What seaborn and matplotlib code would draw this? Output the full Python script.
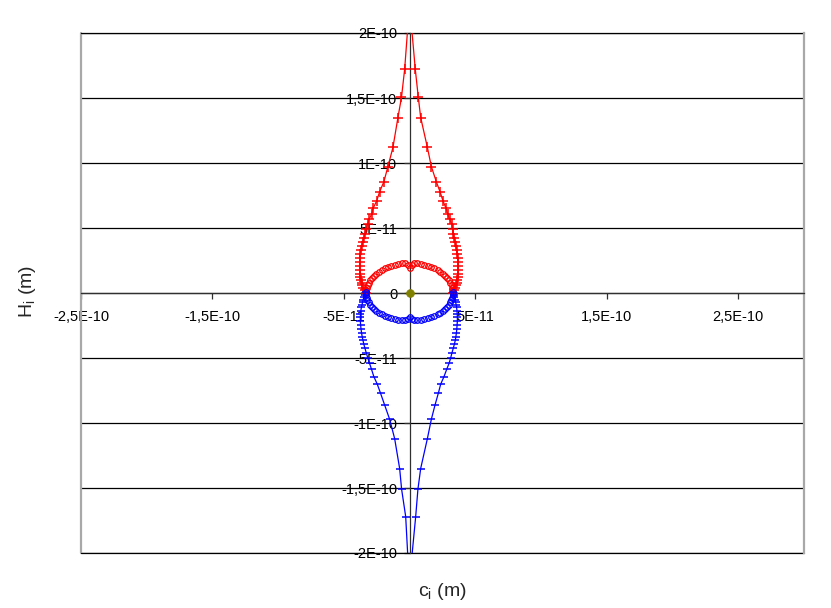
import numpy as np
import pandas as pd
import matplotlib
matplotlib.use("Agg")
import matplotlib.pyplot as plt
import seaborn as sns

# ---- data (values in units of 1E-11 m) ----
UNIT = 1e-11

red_left_x = [-0.10, -0.38, -0.62, -0.89, -1.27, -1.65, -1.96, -2.28, -2.51, -2.78,
              -2.89, -3.08, -3.20, -3.33, -3.40, -3.50, -3.58, -3.65, -3.71, -3.75,
              -3.78, -3.80, -3.81, -3.80, -3.78, -3.75, -3.71, -3.66, -3.60, -3.52,
              -3.42, -3.30]
red_left_y = [21.0, 17.2, 15.05, 13.5, 11.2, 9.73, 8.56, 7.79, 7.08, 6.51,
              6.08, 5.67, 5.31, 4.90, 4.55, 4.20, 3.90, 3.60, 3.30, 3.00,
              2.70, 2.40, 2.10, 1.80, 1.50, 1.25, 1.00, 0.80, 0.60, 0.40,
              0.20, 0.00]
red_right_x = [0.10, 0.43, 0.66, 0.84, 1.35, 1.65, 2.03, 2.31, 2.54, 2.77,
               2.89, 3.05, 3.20, 3.28, 3.33, 3.40, 3.47, 3.53, 3.58, 3.62,
               3.66, 3.69, 3.70, 3.70, 3.68, 3.65, 3.61, 3.57, 3.52, 3.46,
               3.39, 3.30]
red_right_y = [21.0, 17.2, 15.05, 13.5, 11.2, 9.73, 8.56, 7.79, 7.08, 6.51,
               6.08, 5.67, 5.31, 4.90, 4.55, 4.20, 3.90, 3.60, 3.30, 3.00,
               2.70, 2.40, 2.10, 1.80, 1.50, 1.25, 1.00, 0.80, 0.60, 0.40,
               0.20, 0.00]

blue_left_x = [-0.10, -0.30, -0.61, -0.76, -1.14, -1.52, -1.90, -2.21, -2.46, -2.72,
               -2.90, -3.05, -3.18, -3.30, -3.40, -3.48, -3.55, -3.61, -3.66, -3.70,
               -3.73, -3.75, -3.75, -3.74, -3.71, -3.67, -3.62, -3.58, -3.53, -3.48,
               -3.42, -3.35]
blue_left_y = [-21.0, -17.2, -15.1, -13.5, -11.2, -9.72, -8.62, -7.72, -7.02, -6.44,
               -5.87, -5.41, -5.0, -4.6, -4.25, -3.95, -3.65, -3.35, -3.05, -2.75,
               -2.45, -2.15, -1.85, -1.6, -1.35, -1.1, -0.9, -0.7, -0.5, -0.3,
               -0.12, 0.05]
blue_right_x = [0.10, 0.46, 0.63, 0.84, 1.35, 1.65, 1.93, 2.18, 2.36, 2.61,
                2.82, 3.00, 3.12, 3.22, 3.32, 3.40, 3.47, 3.52, 3.56, 3.59,
                3.61, 3.63, 3.63, 3.62, 3.60, 3.57, 3.54, 3.50, 3.45, 3.40,
                3.35, 3.30]
blue_right_y = [-21.0, -17.2, -15.1, -13.5, -11.2, -9.72, -8.62, -7.72, -7.02, -6.44,
                -5.87, -5.41, -5.0, -4.6, -4.25, -3.95, -3.65, -3.35, -3.05, -2.75,
                -2.45, -2.15, -1.85, -1.6, -1.35, -1.1, -0.9, -0.7, -0.5, -0.3,
                -0.12, 0.05]

red_circ_x = [-3.30, -3.29, -3.25, -3.19, -3.10, -2.99, -2.86, -2.70, -2.53, -2.33,
              -2.12, -1.89, -1.65, -1.40, -1.13, -0.85, -0.57, -0.34, -0.15, 0.00,
              0.15, 0.34, 0.57, 0.85, 1.13, 1.40, 1.65, 1.89, 2.12, 2.33,
              2.53, 2.70, 2.86, 2.99, 3.10, 3.19, 3.25, 3.29, 3.30]
red_circ_y = [0.00, 0.20, 0.40, 0.59, 0.78, 0.97, 1.15, 1.32, 1.48, 1.63,
              1.77, 1.89, 2.00, 2.09, 2.17, 2.23, 2.27, 2.28, 2.12, 1.95,
              2.12, 2.28, 2.27, 2.23, 2.17, 2.09, 2.00, 1.89, 1.77, 1.63,
              1.48, 1.32, 1.15, 0.97, 0.78, 0.59, 0.40, 0.20, 0.00]
blue_circ_x = [-3.35, -3.33, -3.28, -3.21, -3.12, -3.00, -2.86, -2.70, -2.53, -2.33,
               -2.12, -1.89, -1.65, -1.40, -1.13, -0.85, -0.57, -0.34, -0.15, 0.00,
               0.15, 0.34, 0.57, 0.85, 1.13, 1.40, 1.65, 1.89, 2.12, 2.33,
               2.53, 2.70, 2.86, 2.99, 3.10, 3.18, 3.24, 3.27, 3.28]
blue_circ_y = [0.05, -0.19, -0.37, -0.55, -0.73, -0.90, -1.07, -1.22, -1.37, -1.51,
               -1.63, -1.74, -1.84, -1.93, -2.00, -2.06, -2.10, -2.11, -1.98, -1.87,
               -1.98, -2.11, -2.10, -2.06, -2.00, -1.93, -1.84, -1.74, -1.63, -1.51,
               -1.37, -1.22, -1.07, -0.90, -0.73, -0.55, -0.37, -0.19, 0.05]

origin_x = [0.0]
origin_y = [0.0]

x_tick_vals = [-25, -15, -5, 5, 15, 25]
x_tick_labels = ["-2,5E-10", "-1,5E-10", "-5E-11", "5E-11", "1,5E-10", "2,5E-10"]
y_tick_vals = [20, 15, 10, 5, 0, -5, -10, -15, -20]
y_tick_labels = ["2E-10", "1,5E-10", "1E-10", "5E-11", "0", "-5E-11", "-1E-10",
                 "-1,5E-10", "-2E-10"]

# ---- style ----
sns.set_theme(style="white")
plt.rcParams["font.family"] = ["Liberation Sans", "DejaVu Sans"]
plt.rcParams["mathtext.default"] = "regular"

W, H = 831, 608
fig = plt.figure(figsize=(W / 100, H / 100), dpi=100)
fig.patch.set_facecolor("white")
L, R, T, B = 81, 804, 33, 553
ax = fig.add_axes([L / W, 1 - B / H, (R - L) / W, (B - T) / H])
ax.set_facecolor("white")

RED = "#FF0000"
BLUE = "#0000FF"


def draw_line(xs, ys, color, marker, ms, mew):
    df = pd.DataFrame({"x": np.array(xs) * UNIT, "y": np.array(ys) * UNIT})
    sns.lineplot(data=df, x="x", y="y", sort=False, estimator=None, errorbar=None,
                 color=color, linewidth=0.9, marker=marker, markersize=ms,
                 markeredgewidth=mew, markeredgecolor=color, ax=ax, zorder=3)


def draw_circles(xs, ys, color):
    df = pd.DataFrame({"x": np.array(xs) * UNIT, "y": np.array(ys) * UNIT})
    sns.lineplot(data=df, x="x", y="y", sort=False, estimator=None, errorbar=None,
                 color=color, linestyle="none", marker="o", markersize=4.0,
                 markerfacecolor="none", markeredgecolor=color,
                 markeredgewidth=0.9, ax=ax, zorder=3)


draw_line(red_left_x, red_left_y, RED, "+", 6.5, 1.1)
draw_line(red_right_x, red_right_y, RED, "+", 6.5, 1.1)
draw_circles(red_circ_x, red_circ_y, RED)
draw_line(blue_left_x, blue_left_y, BLUE, "_", 6.0, 1.1)
draw_line(blue_right_x, blue_right_y, BLUE, "_", 6.0, 1.1)
draw_circles(blue_circ_x, blue_circ_y, BLUE)
sns.scatterplot(x=np.array(origin_x) * UNIT, y=np.array(origin_y) * UNIT,
                color="#808000", s=32, edgecolor="#808000", linewidth=0.5,
                ax=ax, zorder=4)

ax.set_xlim(-25 * UNIT, 30 * UNIT)
ax.set_ylim(-20 * UNIT, 20 * UNIT)

ax.spines["left"].set_position(("data", 0))
ax.spines["bottom"].set_position(("data", 0))
for s in ("left", "bottom"):
    ax.spines[s].set_color("#303030")
    ax.spines[s].set_linewidth(0.9)
ax.spines["top"].set_visible(False)
ax.spines["right"].set_color("#A8A8A8")
ax.spines["right"].set_linewidth(1.6)
ax.plot([0, 0], [0, 1], transform=ax.transAxes, color="#A8A8A8", lw=1.6,
        clip_on=False, zorder=1)
# frame lines at the top and bottom grid positions (kept unclipped)
ax.plot([0, 1], [0, 0], transform=ax.transAxes, color="black", lw=0.9,
        clip_on=False, zorder=1)
ax.plot([0, 1], [1, 1], transform=ax.transAxes, color="black", lw=0.9,
        clip_on=False, zorder=1)

ax.set_xticks(np.array(x_tick_vals) * UNIT)
ax.set_xticklabels(x_tick_labels)
ax.set_yticks(np.array(y_tick_vals) * UNIT)
ax.set_yticklabels(y_tick_labels)
ax.tick_params(axis="x", direction="out", length=4, width=0.9, color="#303030",
               pad=8, labelsize=10.5, labelcolor="black", bottom=True)
ax.tick_params(axis="y", direction="out", length=4, width=0.9, color="#303030",
               pad=5, labelsize=10.5, labelcolor="black", left=True)
ax.yaxis.grid(True, color="black", linewidth=0.9)
ax.xaxis.grid(False)
ax.set_axisbelow(True)
ax.set_xlabel("")
ax.set_ylabel("")

fig.text((L + R) / 2 / W, 1 - 591 / H, "c$_i$ (m)", ha="center", va="center",
         fontsize=14)
fig.text(28 / W, 1 - 291 / H, "H$_i$ (m)", ha="center", va="center",
         fontsize=14, rotation=90)

fig.savefig("out.png", dpi=100)
